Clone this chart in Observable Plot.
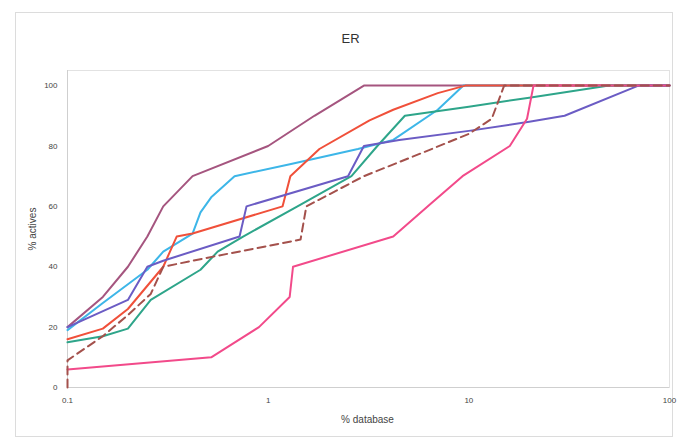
<!DOCTYPE html>
<html><head><meta charset="utf-8">
<script src="https://cdn.jsdelivr.net/npm/d3@7"></script>
<script src="https://cdn.jsdelivr.net/npm/@observablehq/plot@0.6"></script>
<style>
body{margin:0;background:#fff;}
#wrap{position:relative;width:677px;height:439px;overflow:hidden;}
#border{position:absolute;left:15px;top:12px;width:658px;height:425px;border:1px solid #dcdcdc;box-sizing:border-box;pointer-events:none;}
#wrap svg{position:absolute;left:0;top:0;}
</style></head><body><div id="wrap"><div id="border"></div></div>
<script>
const titleText = "ER";
const xLabel = "% database";
const yLabel = "% actives";
const xTicks = [0.1, 1, 10, 100];
const xTickLabels = ["0.1", "1", "10", "100"];
const yTicks = [0, 20, 40, 60, 80, 100];

const mauveX = [0.1, 0.15, 0.2, 0.25, 0.3, 0.42, 1, 1.7, 3, 100];
const mauveY = [20, 30, 40, 50, 60, 70, 80, 90, 100, 100];

const cyanX = [0.1, 0.15, 0.25, 0.3, 0.42, 0.46, 0.52, 0.68, 1.3, 2.8, 4.2, 7, 9.4, 100];
const cyanY = [19, 28, 39, 45, 51, 58, 63, 70, 74, 79, 82, 92, 100, 100];

const orangeX = [0.1, 0.15, 0.2, 0.3, 0.35, 0.42, 1.18, 1.29, 1.8, 3.2, 4.2, 7, 9.6, 100];
const orangeY = [16, 19.5, 26, 40, 50, 51, 60, 70, 79, 88.5, 92, 97.5, 100, 100];

const tealX = [0.1, 0.15, 0.2, 0.26, 0.46, 0.56, 0.75, 1.4, 2.6, 3.5, 4.8, 10, 20, 50, 100];
const tealY = [15, 17, 19.5, 29, 39, 45, 50, 60, 70, 80, 90, 93, 96, 100, 100];

const blueX = [0.1, 0.2, 0.25, 0.3, 0.72, 0.78, 2.5, 3.0, 4.5, 10, 20, 30, 70, 100];
const blueY = [20, 29, 40, 42, 50, 60, 70, 80, 82, 85, 88, 90, 100, 100];

const dashX = [0.1, 0.1, 0.15, 0.2, 0.26, 0.3, 0.5, 1.45, 1.55, 3, 6, 10, 13, 15, 100];
const dashY = [0, 9, 17, 24, 31, 40, 43, 49, 60, 70, 78, 84, 89, 100, 100];

const pinkX = [0.1, 0.52, 0.9, 1.28, 1.33, 4.2, 6.5, 9.3, 16, 19.5, 21, 100];
const pinkY = [6, 10, 20, 30, 40, 50, 61, 70, 80, 89, 100, 100];

const seriesNames = ["mauve", "cyan", "orange", "teal", "blue", "dashed", "pink"];
const seriesColors = ["#a5557f", "#3db6e8", "#f0503a", "#2ea58a", "#6b5cc4", "#a4514c", "#f24a8a"];
const seriesXs = [mauveX, cyanX, orangeX, tealX, blueX, dashX, pinkX];
const seriesYs = [mauveY, cyanY, orangeY, tealY, blueY, dashY, pinkY];

const rows = [];
seriesNames.forEach((s, i) => {
  seriesXs[i].forEach((x, j) => rows.push({series: s, x, y: seriesYs[i][j]}));
});
const solid = rows.filter(d => d.series !== "dashed");
const dashed = rows.filter(d => d.series === "dashed");

const font = "Liberation Sans, Arial, sans-serif";

const chart = Plot.plot({
  width: 677,
  height: 439,
  marginLeft: 67,
  marginRight: 8,
  marginTop: 70,
  marginBottom: 52,
  style: {fontFamily: font, fontSize: "8px", color: "#444", background: "transparent", overflow: "visible"},
  x: {type: "log", domain: [0.1, 100], ticks: xTicks, tickFormat: (d, i) => xTickLabels[xTicks.indexOf(d)], tickSize: 0, tickPadding: 10, label: null},
  y: {domain: [0, 105], ticks: yTicks, tickSize: 0, tickPadding: 10, label: null},
  color: {domain: seriesNames, range: seriesColors},
  marks: [
    Plot.frame({stroke: "#e2e2e2"}),
    Plot.ruleX([0.1], {stroke: "#cfcfcf"}),
    Plot.ruleY([0], {stroke: "#cfcfcf"}),
    Plot.line(solid, {x: "x", y: "y", z: "series", stroke: "series", strokeWidth: 2, curve: "linear"}),
    Plot.line(dashed, {x: "x", y: "y", stroke: "series", strokeWidth: 2, strokeDasharray: "8,5"}),
    Plot.text([titleText], {frameAnchor: "top-left", dx: 283, dy: -37, text: d => d, fontSize: 13, fill: "#333", textAnchor: "middle"}),
    Plot.text([xLabel], {frameAnchor: "bottom-left", dx: 300, dy: 35, text: d => d, fontSize: 10, fill: "#444", textAnchor: "middle"}),
    Plot.text([yLabel], {frameAnchor: "left", dx: -35, dy: 0, text: d => d, fontSize: 10, fill: "#444", rotate: -90, textAnchor: "middle"})
  ]
});
document.getElementById("wrap").appendChild(chart);
</script>
</body></html>
